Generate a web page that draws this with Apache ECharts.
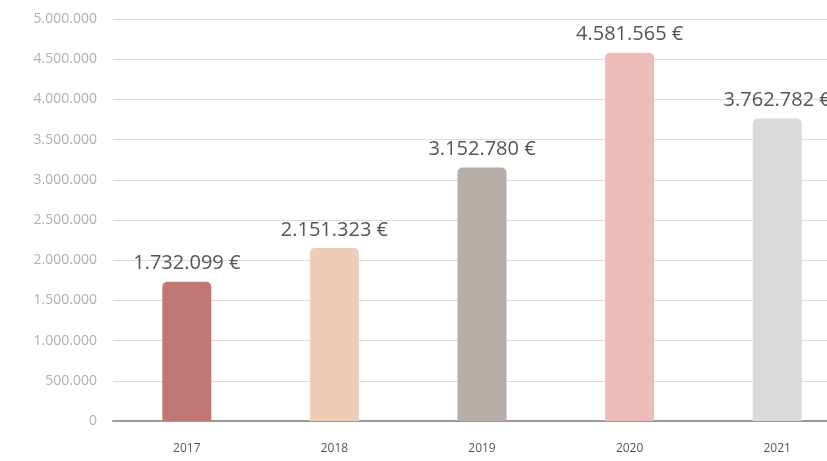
<!DOCTYPE html>
<html>
<head>
<meta charset="utf-8">
<script src="https://cdn.jsdelivr.net/npm/echarts@6/dist/echarts.min.js"></script>
<style>
  html, body { margin: 0; padding: 0; background: #fff; }
  #chart { width: 827px; height: 461px; }
</style>
</head>
<body>
<div id="chart"></div>
<script>
// jahresumsatz
var years = ['2017', '2018', '2019', '2020', '2021'];
var values = [1732099, 2151323, 3152780, 4581565, 3762782];
var barColors = ['#c07875', '#eecdb7', '#b6aca8', '#ecbcb8', '#d9d9d9'];

function fmtDots(v) {
    return String(Math.round(v)).replace(/\B(?=(\d{3})+(?!\d))/g, '.');
}

var myChart = echarts.init(document.getElementById('chart'));
var option = {
    animation: false,
    textStyle: { fontFamily: 'Open Sans' },
    grid: {
        left: 113,
        top: 19,
        width: 738,
        height: 402,
        outerBoundsMode: 'none'
    },
    xAxis: {
        type: 'category',
        data: years,
        axisLine: { lineStyle: { color: '#999', width: 2 } },
        axisTick: { show: false },
        axisLabel: { color: '#555', fontSize: 12, margin: 22 }
    },
    yAxis: {
        type: 'value',
        min: 0,
        max: 5000000,
        interval: 500000,
        axisLine: { show: false },
        axisTick: { show: false },
        axisLabel: {
            color: '#b0b0b0',
            fontSize: 14,
            margin: 16,
            formatter: function (v) { return fmtDots(v); }
        },
        splitLine: { lineStyle: { color: '#dcdcdc', width: 1 } }
    },
    series: [
        {
            type: 'bar',
            barWidth: 49,
            data: values.map(function (v, i) {
                return { value: v, itemStyle: { color: barColors[i] } };
            }),
            itemStyle: { borderRadius: [5, 5, 0, 0] },
            label: {
                show: true,
                position: 'top',
                distance: 8,
                color: '#555',
                fontSize: 20,
                formatter: function (p) { return fmtDots(p.value) + ' €'; }
            }
        }
    ]
};
myChart.setOption(option);
</script>
</body>
</html>
